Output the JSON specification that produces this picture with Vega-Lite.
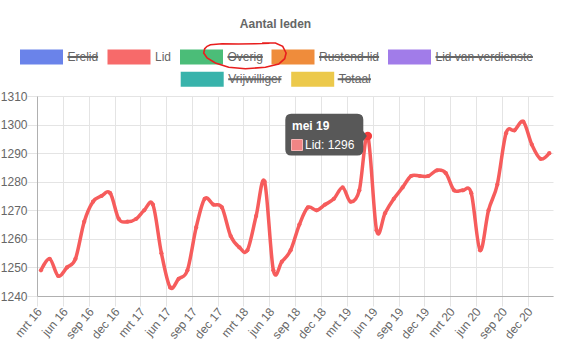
{
  "$schema": "https://vega.github.io/schema/vega-lite/v6.json",
  "autosize": {"type": "none"},
  "padding": {"left": 37, "top": 96, "right": 13, "bottom": 55},
  "width": 516,
  "height": 200,
  "background": "white",
  "title": {"text": "Aantal leden", "fontSize": 12, "fontWeight": "bold", "font": "Liberation Sans", "color": "#666666", "anchor": "middle", "dx": -19.5, "offset": 11, "baseline": "alphabetic"},
  "datasets": {
    "lid": [
      {"date": "2016/03/15", "value": 1249},
      {"date": "2016/04/15", "value": 1253},
      {"date": "2016/05/15", "value": 1247},
      {"date": "2016/06/15", "value": 1250},
      {"date": "2016/07/15", "value": 1253},
      {"date": "2016/08/15", "value": 1266},
      {"date": "2016/09/15", "value": 1273},
      {"date": "2016/10/15", "value": 1275},
      {"date": "2016/11/15", "value": 1276},
      {"date": "2016/12/15", "value": 1267},
      {"date": "2017/01/15", "value": 1266},
      {"date": "2017/02/15", "value": 1267},
      {"date": "2017/03/15", "value": 1270},
      {"date": "2017/04/15", "value": 1272},
      {"date": "2017/05/15", "value": 1255},
      {"date": "2017/06/15", "value": 1243},
      {"date": "2017/07/15", "value": 1246},
      {"date": "2017/08/15", "value": 1249},
      {"date": "2017/09/15", "value": 1264},
      {"date": "2017/10/15", "value": 1274},
      {"date": "2017/11/15", "value": 1272},
      {"date": "2017/12/15", "value": 1271},
      {"date": "2018/01/15", "value": 1261},
      {"date": "2018/02/15", "value": 1257},
      {"date": "2018/03/15", "value": 1256},
      {"date": "2018/04/15", "value": 1268},
      {"date": "2018/05/15", "value": 1280},
      {"date": "2018/06/15", "value": 1249},
      {"date": "2018/07/15", "value": 1252},
      {"date": "2018/08/15", "value": 1256},
      {"date": "2018/09/15", "value": 1265},
      {"date": "2018/10/15", "value": 1271},
      {"date": "2018/11/15", "value": 1270},
      {"date": "2018/12/15", "value": 1272},
      {"date": "2019/01/15", "value": 1274},
      {"date": "2019/02/15", "value": 1278},
      {"date": "2019/03/15", "value": 1273},
      {"date": "2019/04/15", "value": 1277},
      {"date": "2019/05/15", "value": 1296},
      {"date": "2019/06/15", "value": 1263},
      {"date": "2019/07/15", "value": 1269},
      {"date": "2019/08/15", "value": 1274},
      {"date": "2019/09/15", "value": 1278},
      {"date": "2019/10/15", "value": 1282},
      {"date": "2019/11/15", "value": 1282},
      {"date": "2019/12/15", "value": 1282},
      {"date": "2020/01/15", "value": 1284},
      {"date": "2020/02/15", "value": 1283},
      {"date": "2020/03/15", "value": 1277},
      {"date": "2020/04/15", "value": 1277},
      {"date": "2020/05/15", "value": 1276},
      {"date": "2020/06/15", "value": 1256},
      {"date": "2020/07/15", "value": 1270},
      {"date": "2020/08/15", "value": 1279},
      {"date": "2020/09/15", "value": 1297},
      {"date": "2020/10/15", "value": 1298},
      {"date": "2020/11/15", "value": 1301},
      {"date": "2020/12/15", "value": 1293},
      {"date": "2021/01/15", "value": 1288},
      {"date": "2021/02/15", "value": 1290}
    ],
    "hover": [
      {"date": "2019/05/15", "value": 1296, "title": "mei 19", "body": "Lid: 1296"}
    ]
  },
  "data": {"name": "lid"},
  "encoding": {
    "x": {
      "field": "date", "type": "temporal",
      "scale": {"domain": [{"year": 2016, "month": 3, "date": 1}, {"year": 2021, "month": 2, "date": 28}], "nice": false},
      "axis": {
        "title": null,
        "values": [
          {"year": 2016, "month": 3, "date": 1}, {"year": 2016, "month": 6, "date": 1}, {"year": 2016, "month": 9, "date": 1}, {"year": 2016, "month": 12, "date": 1},
          {"year": 2017, "month": 3, "date": 1}, {"year": 2017, "month": 6, "date": 1}, {"year": 2017, "month": 9, "date": 1}, {"year": 2017, "month": 12, "date": 1},
          {"year": 2018, "month": 3, "date": 1}, {"year": 2018, "month": 6, "date": 1}, {"year": 2018, "month": 9, "date": 1}, {"year": 2018, "month": 12, "date": 1},
          {"year": 2019, "month": 3, "date": 1}, {"year": 2019, "month": 6, "date": 1}, {"year": 2019, "month": 9, "date": 1}, {"year": 2019, "month": 12, "date": 1},
          {"year": 2020, "month": 3, "date": 1}, {"year": 2020, "month": 6, "date": 1}, {"year": 2020, "month": 9, "date": 1}, {"year": 2020, "month": 12, "date": 1}
        ],
        "labelExpr": "['jan','feb','mrt','apr','mei','jun','jul','aug','sep','okt','nov','dec'][month(datum.value)] + ' ' + timeFormat(datum.value, '%y')",
        "labelAngle": -50, "labelAlign": "right", "labelBaseline": "middle",
        "labelFont": "Liberation Sans", "labelFontSize": 12, "labelColor": "#666666",
        "labelPadding": 3, "labelOffset": 2, "labelFlush": false, "labelOverlap": false, "labelBound": false,
        "grid": true, "gridColor": "#e4e4e4", "tickColor": "#e4e4e4", "tickSize": 10,
        "domainColor": "#b0b0b0"
      }
    },
    "y": {
      "field": "value", "type": "quantitative",
      "scale": {"domain": [1240, 1310], "nice": false, "zero": false},
      "axis": {
        "title": null, "format": "d",
        "values": [1240, 1250, 1260, 1270, 1280, 1290, 1300, 1310],
        "labelFont": "Liberation Sans", "labelFontSize": 12, "labelColor": "#666666",
        "labelPadding": 0, "labelFlush": false,
        "grid": true, "gridColor": "#e4e4e4", "tickColor": "#e4e4e4", "tickSize": 10,
        "domainColor": "#b0b0b0"
      }
    }
  },
  "layer": [
    {
      "mark": {"type": "line", "interpolate": "cardinal", "tension": 0, "color": "#f65c5c", "strokeWidth": 3.5}
    },
    {
      "mark": {"type": "point", "filled": true, "opacity": 1, "color": "#f65c5c", "size": 18}
    },
    {
      "data": {"name": "hover"},
      "mark": {"type": "point", "filled": true, "opacity": 1, "color": "#f43c3c", "size": 72}
    },
    {
      "data": {"name": "hover"},
      "mark": {"type": "point", "filled": true, "opacity": 1, "color": "#585858", "size": 4, "strokeWidth": 0,
        "shape": "M-76.5,-22.2H-10.5Q-4.5,-22.2 -4.5,-16.2V-5L-1,0L-4.5,5V13.5Q-4.5,19.5 -10.5,19.5H-76.5Q-82.5,19.5 -82.5,13.5V-16.2Q-82.5,-22.2 -76.5,-22.2Z"}
    },
    {
      "data": {"name": "hover"},
      "mark": {"type": "text", "align": "left", "baseline": "alphabetic", "dx": -75.8, "dy": -5.9, "font": "Liberation Sans", "fontSize": 12, "fontWeight": "bold", "color": "white"},
      "encoding": {"text": {"field": "title"}}
    },
    {
      "data": {"name": "hover"},
      "mark": {"type": "point", "shape": "square", "filled": true, "opacity": 1, "size": 121, "fill": "#f08585", "stroke": "#f7b5b5", "strokeWidth": 1, "xOffset": -70.8, "yOffset": 9}
    },
    {
      "data": {"name": "hover"},
      "mark": {"type": "text", "align": "left", "baseline": "alphabetic", "dx": -62.8, "dy": 13.3, "font": "Liberation Sans", "fontSize": 12, "color": "white"},
      "encoding": {"text": {"field": "body"}}
    },
    {
      "transform": [{"filter": "false"}],
      "mark": {"type": "point", "filled": true, "opacity": 1},
      "encoding": {
        "color": {
          "datum": "Lid", "type": "nominal",
          "scale": {"domain": ["Erelid", "Lid", "Overig", "Rustend lid", "Lid van verdienste"], "range": ["#6a83ea", "#f76a6a", "#4bbd78", "#ef8c3b", "#a17ce9"]},
          "legend": {"orient": "none", "legendX": -17, "legendY": -45.3, "direction": "horizontal", "columns": 5, "title": null, "padding": 0,
            "symbolType": "M-6,-7.5H37V7.5H-6Z", "symbolSize": 4, "symbolStrokeWidth": 0, "symbolOpacity": 1,
            "labelOffset": 35.5, "columnPadding": 8.5, "rowPadding": 0, "labelFont": "Liberation Sans", "labelFontSize": 12, "labelColor": "#666666", "labelLimit": 300}
        }
      }
    },
    {
      "transform": [{"filter": "false"}],
      "mark": {"type": "point", "filled": true, "opacity": 1},
      "encoding": {
        "color": {
          "datum": "Totaal", "type": "nominal",
          "scale": {"domain": ["Vrijwilliger", "Totaal"], "range": ["#38b3ab", "#ecc94b"]},
          "legend": {"orient": "none", "legendX": 143.7, "legendY": -23, "direction": "horizontal", "columns": 2, "title": null, "padding": 0,
            "symbolType": "M-6,-7.5H37V7.5H-6Z", "symbolSize": 4, "symbolStrokeWidth": 0, "symbolOpacity": 1,
            "labelOffset": 35.5, "columnPadding": 8.5, "rowPadding": 0, "labelFont": "Liberation Sans", "labelFontSize": 12, "labelColor": "#666666", "labelLimit": 300}
        }
      }
    },
    {
      "transform": [{"filter": "false"}],
      "mark": {"type": "point", "filled": true, "opacity": 1, "color": "#666666"},
      "encoding": {
        "shape": {
          "datum": "Erelid", "type": "nominal",
          "scale": {"domain": ["Erelid", "Lid", "Overig", "Rustend lid", "Lid van verdienste"],
            "range": [
              "M-6,-7.5h0.01v0.01h-0.01Z M-6,7.5h0.01v-0.01h-0.01Z M41.5,-1H72.1V1H41.5Z",
              "M-6,-7.5h0.01v0.01h-0.01Z M-6,7.5h0.01v-0.01h-0.01Z M57.5,0h-0.01v0.01h0.01Z",
              "M-6,-7.5h0.01v0.01h-0.01Z M-6,7.5h0.01v-0.01h-0.01Z M41.5,-1H76.8V1H41.5Z",
              "M-6,-7.5h0.01v0.01h-0.01Z M-6,7.5h0.01v-0.01h-0.01Z M41.5,-1H101.6V1H41.5Z",
              "M-6,-7.5h0.01v0.01h-0.01Z M-6,7.5h0.01v-0.01h-0.01Z M41.5,-1H138.9V1H41.5Z"
            ]},
          "legend": {"orient": "none", "legendX": -17, "legendY": -45.3, "direction": "horizontal", "columns": 5, "title": null, "padding": 0,
            "symbolSize": 4, "symbolStrokeWidth": 0, "symbolOpacity": 1, "symbolFillColor": "#666666",
            "labelExpr": "''", "labelOffset": 35.5, "columnPadding": 8.5, "rowPadding": 0, "labelFont": "Liberation Sans", "labelFontSize": 12, "labelLimit": 300}
        }
      }
    },
    {
      "transform": [{"filter": "false"}],
      "mark": {"type": "point", "filled": true, "opacity": 1, "color": "#666666"},
      "encoding": {
        "shape": {
          "datum": "Totaal", "type": "nominal",
          "scale": {"domain": ["Vrijwilliger", "Totaal"],
            "range": [
              "M-6,-7.5h0.01v0.01h-0.01Z M-6,7.5h0.01v-0.01h-0.01Z M41.5,-1H94.7V1H41.5Z",
              "M-6,-7.5h0.01v0.01h-0.01Z M-6,7.5h0.01v-0.01h-0.01Z M41.5,-1H74.8V1H41.5Z"
            ]},
          "legend": {"orient": "none", "legendX": 143.7, "legendY": -23, "direction": "horizontal", "columns": 2, "title": null, "padding": 0,
            "symbolSize": 4, "symbolStrokeWidth": 0, "symbolOpacity": 1, "symbolFillColor": "#666666",
            "labelExpr": "''", "labelOffset": 35.5, "columnPadding": 8.5, "rowPadding": 0, "labelFont": "Liberation Sans", "labelFontSize": 12, "labelLimit": 300}
        }
      }
    },
    {
      "transform": [{"filter": "false"}],
      "mark": {"type": "point", "filled": false, "opacity": 1, "color": "#e81e1e", "strokeWidth": 1.6},
      "encoding": {
        "size": {"value": 4},
        "opacity": {"value": 1},
        "shape": {
          "datum": "Overig", "type": "nominal",
          "scale": {"domain": ["Overig"],
            "range": ["M77.4,-17.2L90.7,-17.2L98,-13.9L101.4,-7.2L100,-1.5L94,3.8L80.7,7.1L60.7,8.5L44,7.1L30.7,2.8L22.4,-2.2L19,-7.2L20,-11.5L22.4,-13.9L25.7,-15.5L37.4,-16.5L54,-16.2L70.7,-16.5L84.7,-16.9"]},
          "legend": {"orient": "none", "legendX": 141.7, "legendY": -41.8, "direction": "horizontal", "columns": 1, "title": null, "padding": 0,
            "symbolSize": 4, "symbolStrokeWidth": 1.6, "symbolOpacity": 1, "symbolFillColor": "transparent", "symbolStrokeColor": "#e81e1e",
            "labelExpr": "''", "labelOffset": 35.5, "labelFont": "Liberation Sans", "labelFontSize": 12}
        }
      }
    }
  ],
  "resolve": {"scale": {"color": "independent", "shape": "independent"}, "legend": {"color": "independent", "shape": "independent"}},
  "config": {"view": {"stroke": null}}
}
